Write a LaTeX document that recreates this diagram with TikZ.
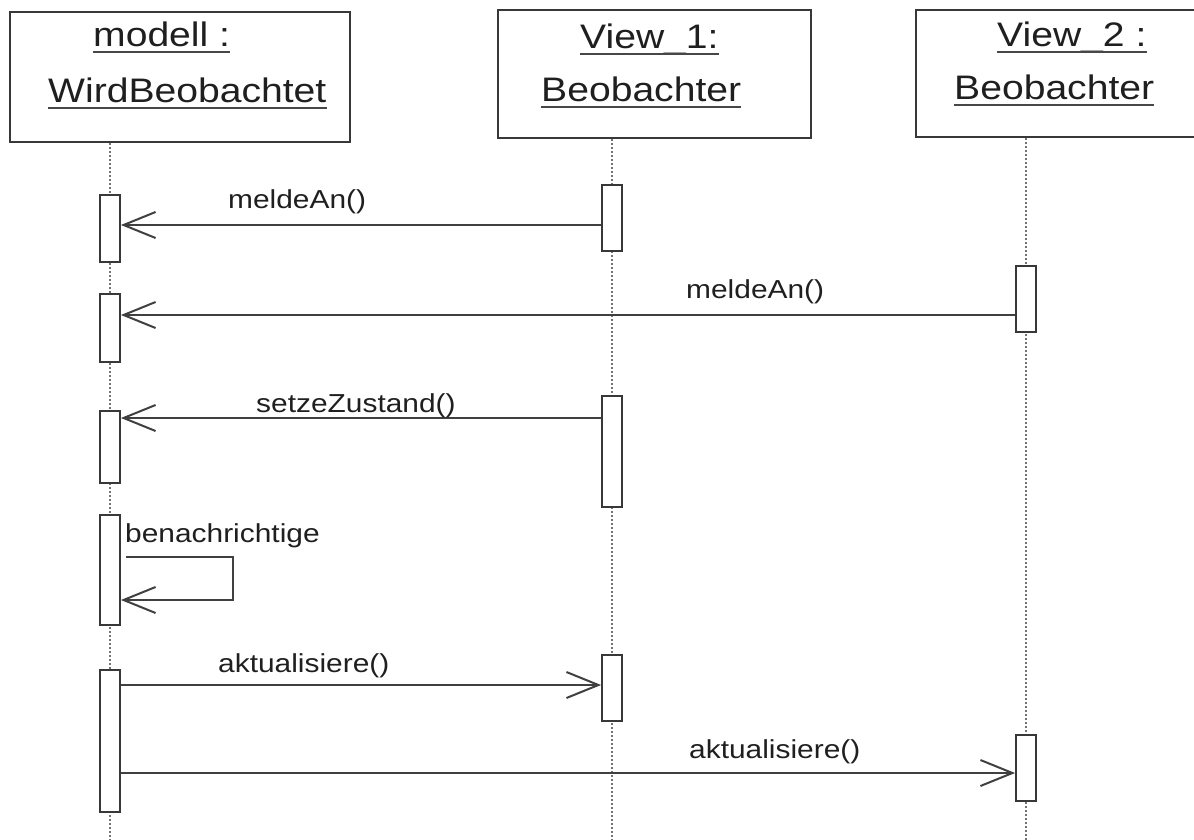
\documentclass[tikz,border=0pt]{standalone}
\usepackage{fontspec}
\setmainfont{Liberation Sans}
\newfontfamily\headfont[FakeStretch=1.15]{Liberation Sans}
\newfontfamily\msgfont[FakeStretch=1.15]{Liberation Sans}
\usetikzlibrary{arrows.meta}

\tikzset{
  objbox/.style={draw=black!78, line width=2pt, inner sep=0pt},
  headtext/.style={anchor=base west, inner sep=0pt, text=black!88,
    font=\headfont\fontsize{34}{40}\selectfont},
  uline/.style={draw=black!72, line width=2pt},
  lifeline/.style={draw=black!55, line width=1.3pt, dash pattern=on 1.6pt off 2.4pt},
  actbox/.style={draw=black!78, line width=1.8pt, fill=white, minimum width=20pt, inner sep=0pt},
  msg/.style={draw=black!75, line width=2.3pt,
    -{Straight Barb[length=32pt, width=26pt, line width=2pt]}},
  msglabel/.style={anchor=base west, inner sep=0pt, text=black!88,
    font=\msgfont\fontsize{26}{30}\selectfont},
}

\begin{document}
\begin{tikzpicture}[x=1pt, y=-1pt]
\useasboundingbox (0,0) rectangle (1194,840);
\clip (0,0) rectangle (1194,840);

% object boxes
\node[objbox, minimum width=340pt, minimum height=130pt] (box1) at (180,77) {};
\node[objbox, minimum width=313pt, minimum height=128pt] (box2) at (654.5,74) {};
\node[objbox, minimum width=294pt, minimum height=127pt] (box3) at (1063,73.5) {};

% object names, underlined
\node[headtext] (h1a) at (93,47) {modell :};
\node[headtext] (h1b) at (48,103) {WirdBeobachtet};
\node[headtext] (h2a) at (580,49) {View\_1:};
\node[headtext] (h2b) at (541,102) {Beobachter};
\node[headtext] (h3a) at (997,47) {View\_2 :};
\node[headtext] (h3b) at (954,100) {Beobachter};
\foreach \n in {h1a,h1b,h2a,h2b,h3a,h3b}
  \draw[uline] ([yshift=-5pt]\n.base west) -- ([yshift=-5pt]\n.base east);

% lifelines
\coordinate (l1end) at (110,840);
\coordinate (l2end) at (612,840);
\coordinate (l3end) at (1026,840);
\draw[lifeline] (box1.south -| l1end) -- (l1end);
\draw[lifeline] (box2.south -| l2end) -- (l2end);
\draw[lifeline] (box3.south -| l3end) -- (l3end);

% activation bars
\node[actbox, minimum height=67pt]  (a1) at (110,228.5) {};
\node[actbox, minimum height=68pt]  (a2) at (110,328) {};
\node[actbox, minimum height=72pt]  (a3) at (110,447) {};
\node[actbox, minimum height=110pt] (a4) at (110,570) {};
\node[actbox, minimum height=142pt] (a5) at (110,741) {};
\node[actbox, minimum height=66pt]  (b1) at (612,218) {};
\node[actbox, minimum height=111pt] (b2) at (612,451.5) {};
\node[actbox, minimum height=66pt]  (b3) at (612,688) {};
\node[actbox, minimum height=66pt]  (c1) at (1026,299) {};
\node[actbox, minimum height=66pt]  (c2) at (1026,768) {};

% message heights
\coordinate (y1) at (0,225);
\coordinate (y2) at (0,315);
\coordinate (y3) at (0,418);
\coordinate (sTop) at (0,557);
\coordinate (sBot) at (0,600);
\coordinate (sCorner) at (233,0);
\coordinate (y5) at (0,685);
\coordinate (y6) at (0,773);

% messages
\draw[msg] (b1.west |- y1) -- (a1.east |- y1);
\draw[msg] (c1.west |- y2) -- (a2.east |- y2);
\draw[msg] (b2.west |- y3) -- (a3.east |- y3);
\draw[msg] ([xshift=5pt]a4.east |- sTop) -- (sCorner |- sTop) -- (sCorner |- sBot) -- (a4.east |- sBot);
\draw[msg] (a5.east |- y5) -- (b3.west |- y5);
\draw[msg] (a5.east |- y6) -- (c2.west |- y6);

% message labels
\node[msglabel] (t1) at (228,208) {meldeAn()};
\node[msglabel] (t2) at (686,298) {meldeAn()};
\node[msglabel] (t3) at (256,412) {setzeZustand()};
\node[msglabel] (t4) at (125,542) {benachrichtige};
\node[msglabel] (t5) at (218,672) {aktualisiere()};
\node[msglabel] (t6) at (689,758) {aktualisiere()};
\end{tikzpicture}
\end{document}
